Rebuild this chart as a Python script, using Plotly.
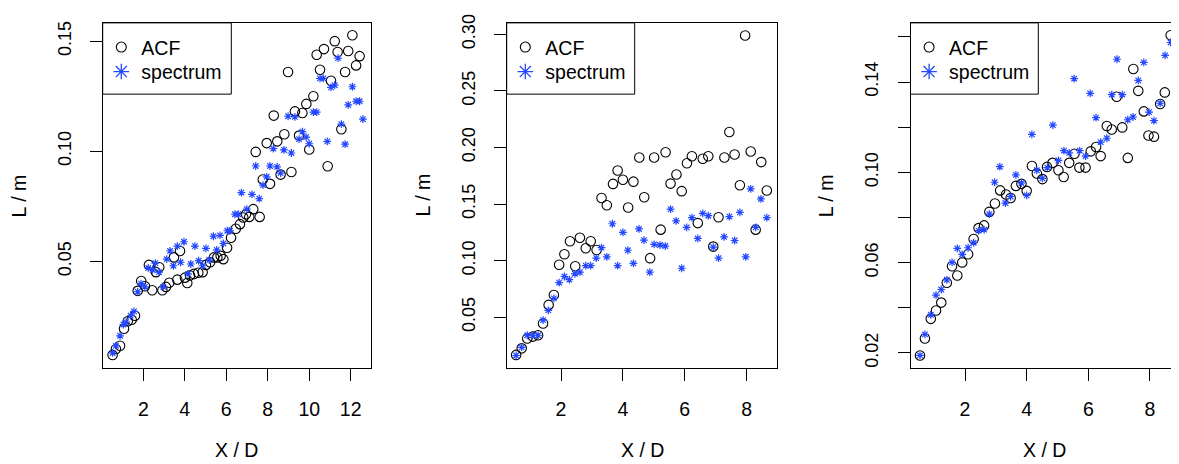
import plotly.graph_objects as go

# ---------------- data ----------------
p1_acf_x = [12.08, 11.23, 10.71, 10.36, 11.37, 11.88, 12.43, 12.26, 11.73, 10.52, 11.05, 8.98, 10.20, 9.86,
            9.67, 9.31, 8.29, 8.80, 8.46, 7.95, 9.51, 10.00, 11.55, 7.42, 10.89, 9.14, 8.62, 7.76, 8.11, 7.30,
            6.95, 6.82, 7.11, 7.61, 6.66, 6.46, 6.23, 6.04, 5.86, 5.73, 5.57, 5.41, 5.22, 5.02, 4.86, 4.65,
            4.44, 4.25, 4.12, 4.01, 3.64, 3.25, 3.09, 2.92, 3.77, 3.48, 2.77, 2.61, 2.27, 2.43, 1.90, 2.08,
            1.73, 1.60, 1.44, 1.25, 1.07, 0.88, 0.68, 0.52]
p1_acf_y = [0.1527, 0.1500, 0.1464, 0.1438, 0.1451, 0.1455, 0.1432, 0.1390, 0.1360, 0.1370, 0.1320, 0.1360,
            0.1250, 0.1215, 0.1174, 0.1181, 0.1162, 0.1077, 0.1045, 0.1037, 0.1071, 0.1008, 0.1100, 0.0997,
            0.0932, 0.0906, 0.0894, 0.0872, 0.0852, 0.0737, 0.0714, 0.0699, 0.0702, 0.0702, 0.0669, 0.0648,
            0.0607, 0.0562, 0.0510, 0.0525, 0.0518, 0.0518, 0.0496, 0.0484, 0.0451, 0.0448, 0.0443, 0.0436,
            0.0402, 0.0426, 0.0417, 0.0403, 0.0384, 0.0369, 0.0547, 0.0518, 0.0473, 0.0451, 0.0484, 0.0369,
            0.0411, 0.0387, 0.0366, 0.0253, 0.0235, 0.0228, 0.0194, 0.0117, 0.0102, 0.0075]
p1_spec_x = [11.39, 10.52, 10.68, 11.05, 11.23, 12.08, 11.88, 12.26, 12.43, 12.59, 11.55, 11.73, 10.87, 10.20,
             10.36, 8.98, 9.31, 9.67, 9.51, 9.85, 10.00, 8.27, 8.78, 9.14, 7.42, 8.11, 8.45, 8.62, 7.95, 7.77,
             6.73, 7.24, 7.59, 6.99, 6.42, 6.58, 6.05, 6.18, 5.38, 5.70, 5.86, 5.54, 5.02, 4.49, 3.96, 3.64,
             3.29, 3.13, 3.80, 3.45, 4.29, 4.67, 4.86, 5.18, 4.16, 2.96, 2.58, 2.45, 2.24, 2.76, 1.89, 2.07,
             1.73, 1.55, 1.39, 1.17, 1.04, 0.88, 0.68, 0.52]
p1_spec_y = [0.1423, 0.1331, 0.1331, 0.1290, 0.1300, 0.1293, 0.1211, 0.1227, 0.1227, 0.1146, 0.1123, 0.1032,
             0.1045, 0.1178, 0.1178, 0.1159, 0.1156, 0.1089, 0.1055, 0.1064, 0.1034, 0.1012, 0.1006, 0.0992,
             0.0933, 0.0933, 0.0929, 0.0901, 0.0884, 0.0846, 0.0812, 0.0804, 0.0785, 0.0737, 0.0714, 0.0714,
             0.0639, 0.0639, 0.0614, 0.0618, 0.0581, 0.0552, 0.0559, 0.0569, 0.0589, 0.0569, 0.0547, 0.0510,
             0.0496, 0.0480, 0.0488, 0.0503, 0.0480, 0.0506, 0.0443, 0.0384, 0.0492, 0.0461, 0.0470, 0.0451,
             0.0399, 0.0384, 0.0362, 0.0273, 0.0253, 0.0224, 0.0213, 0.0162, 0.0117, 0.0084]

p2_acf_x = [7.95, 7.44, 4.53, 5.01, 5.38, 6.23, 6.58, 6.76, 6.07, 7.28, 7.61, 8.13, 8.47, 3.83, 3.68, 4.00,
            4.34, 5.73, 5.54, 5.90, 7.78, 8.65, 3.31, 3.48, 4.69, 4.17, 5.22, 6.42, 7.09, 8.29, 6.92, 4.88,
            2.61, 2.29, 2.96, 2.80, 3.15, 2.11, 1.94, 2.46, 1.77, 1.60, 1.42, 1.26, 1.09, 0.91, 0.73, 0.55]
p2_acf_y = [0.2990, 0.2137, 0.1912, 0.1912, 0.1958, 0.1923, 0.1900, 0.1923, 0.1860, 0.1912, 0.1938, 0.1964,
            0.1871, 0.1796, 0.1678, 0.1715, 0.1698, 0.1761, 0.1681, 0.1614, 0.1666, 0.1620, 0.1553, 0.1490,
            0.1560, 0.1470, 0.1274, 0.1332, 0.1384, 0.1274, 0.1124, 0.1022, 0.1202, 0.1172, 0.1172, 0.1109,
            0.1094, 0.1057, 0.0964, 0.0950, 0.0696, 0.0609, 0.0445, 0.0341, 0.0329, 0.0312, 0.0225, 0.0167]
p2_spec_x = [8.13, 8.46, 5.54, 8.65, 6.58, 6.76, 6.23, 7.78, 7.44, 5.72, 6.06, 8.29, 3.66, 4.52, 4.00, 6.42,
             7.27, 7.61, 4.68, 5.01, 5.20, 5.37, 3.31, 4.16, 6.92, 3.48, 3.14, 7.09, 7.97, 4.34, 3.83, 2.80,
             2.96, 5.90, 4.87, 2.61, 2.45, 2.27, 2.11, 1.94, 1.77, 1.59, 1.42, 1.26, 1.09, 0.91, 0.73, 0.55]
p2_spec_y = [0.1635, 0.1545, 0.1455, 0.1380, 0.1418, 0.1397, 0.1380, 0.1427, 0.1389, 0.1352, 0.1294, 0.1294,
             0.1326, 0.1280, 0.1250, 0.1196, 0.1210, 0.1178, 0.1181, 0.1144, 0.1138, 0.1129, 0.1115, 0.1092,
             0.1120, 0.1034, 0.1022, 0.1022, 0.1034, 0.0976, 0.0956, 0.0956, 0.0956, 0.0933, 0.0898, 0.0898,
             0.0884, 0.0832, 0.0860, 0.0806, 0.0667, 0.0561, 0.0474, 0.0341, 0.0341, 0.0341, 0.0234, 0.0162]

p3_acf_x = [8.67, 7.46, 7.62, 8.48, 6.92, 8.33, 7.80, 6.60, 6.76, 7.10, 7.95, 8.13, 7.28, 6.25, 6.08, 6.40,
            5.55, 5.38, 5.71, 5.91, 5.03, 5.20, 4.84, 4.66, 4.17, 4.33, 4.51, 3.83, 3.65, 4.00, 3.14, 3.33,
            3.48, 2.97, 2.79, 2.62, 2.44, 2.28, 2.10, 1.91, 1.75, 1.58, 1.41, 1.23, 1.06, 0.89, 0.70, 0.54]
p3_acf_y = [0.1607, 0.1458, 0.1361, 0.1354, 0.1335, 0.1303, 0.1270, 0.1205, 0.1190, 0.1199, 0.1163, 0.1158,
            0.1064, 0.1112, 0.1093, 0.1072, 0.1082, 0.1042, 0.1021, 0.1021, 0.1009, 0.0979, 0.1042, 0.1024,
            0.1028, 0.0995, 0.0970, 0.0949, 0.0940, 0.0918, 0.0920, 0.0902, 0.0886, 0.0862, 0.0825, 0.0765,
            0.0753, 0.0705, 0.0637, 0.0601, 0.0543, 0.0584, 0.0511, 0.0423, 0.0388, 0.0351, 0.0264, 0.0189]
p3_spec_x = [8.67, 8.49, 7.80, 6.93, 7.62, 5.54, 6.06, 6.76, 7.10, 8.33, 7.97, 8.13, 7.28, 7.45, 6.25, 4.85,
             4.17, 6.60, 6.40, 5.21, 5.38, 5.72, 5.91, 5.03, 4.67, 4.33, 4.51, 3.13, 3.65, 3.83, 2.96, 4.00,
             3.48, 3.31, 2.79, 2.62, 2.44, 2.28, 2.10, 1.91, 1.75, 1.58, 1.41, 1.23, 1.06, 0.89, 0.70, 0.54]
p3_spec_y = [0.1575, 0.1518, 0.1487, 0.1501, 0.1407, 0.1415, 0.1350, 0.1344, 0.1344, 0.1306, 0.1267, 0.1229,
             0.1233, 0.1245, 0.1242, 0.1209, 0.1168, 0.1151, 0.1134, 0.1096, 0.1086, 0.1096, 0.1072, 0.1053,
             0.1021, 0.1009, 0.0973, 0.1025, 0.0989, 0.0953, 0.0956, 0.0898, 0.0893, 0.0864, 0.0815, 0.0746,
             0.0742, 0.0688, 0.0666, 0.0637, 0.0663, 0.0601, 0.0524, 0.0481, 0.0456, 0.0369, 0.0282, 0.0189]

x_ticks_1 = [2, 4, 6, 8, 10, 12]
x_ticks_23 = [2, 4, 6, 8]
y_ticks_1 = [0.05, 0.10, 0.15]
y_labels_1 = ["0.05", "0.10", "0.15"]
y_ticks_2 = [0.05, 0.10, 0.15, 0.20, 0.25, 0.30]
y_labels_2 = ["0.05", "0.10", "0.15", "0.20", "0.25", "0.30"]
y_ticks_3 = [0.02, 0.04, 0.06, 0.08, 0.10, 0.12, 0.14, 0.16]
y_labels_3 = ["0.02", "", "0.06", "", "0.10", "", "0.14", ""]

series_names = ["ACF", "spectrum"]
x_title = "X / D"
y_title = "L / m"

# ---------------- layout geometry (page pixels; page body has an 8px margin) ----------------
OFF = 8
W, H = 1179 - OFF, 464 - OFF
FONT = "Liberation Sans, Arial, Helvetica, sans-serif"
BLUE = "#2448ff"
TOP, BOT = 14.0, 366.0


def fx(p):  # page x pixel -> paper fraction
    return (p - OFF) / W


def fy(p):  # page y pixel -> paper fraction
    return 1 - (p - OFF) / H


panels = [
    dict(px=(102.7, 370.7), xr=(0.0424, 12.964), yr=(0.0016, 0.1583),
         xt=x_ticks_1, yt=y_ticks_1, yl=y_labels_1,
         acf=(p1_acf_x, p1_acf_y), spec=(p1_spec_x, p1_spec_y), box_r=231.3, right=True),
    dict(px=(506.7, 777.3), xr=(0.2456, 8.989), yr=(0.0052, 0.3101),
         xt=x_ticks_23, yt=y_ticks_2, yl=y_labels_2,
         acf=(p2_acf_x, p2_acf_y), spec=(p2_spec_x, p2_spec_y), box_r=634.7, right=True),
    dict(px=(910.5, 1179.0), xr=(0.232, 8.941), yr=(0.01336, 0.1662),
         xt=x_ticks_23, yt=y_ticks_3, yl=y_labels_3,
         acf=(p3_acf_x, p3_acf_y), spec=(p3_spec_x, p3_spec_y), box_r=1038.3, right=False),
]

fig = go.Figure()
layout = dict(width=W, height=H, margin=dict(l=0, r=0, t=0, b=0),
              paper_bgcolor="white", plot_bgcolor="white", showlegend=True,
              font=dict(family=FONT, color="black"))
shapes, annotations = [], []
ydom = [fy(BOT), fy(TOP)]
LEG_TOP = [19.1, 44.1]      # page y of each legend entry's top edge

leg_idx = 0
for i, p in enumerate(panels):
    k = "" if i == 0 else str(i + 1)
    xa, ya = "x" + k, "y" + k
    xdom = [fx(p["px"][0]), min(1.0, fx(p["px"][1]))]
    layout["xaxis" + k] = dict(
        domain=xdom, range=list(p["xr"]), anchor=ya, showgrid=False, zeroline=False,
        showline=True, linecolor="black", linewidth=1, mirror=True,
        ticks="outside", ticklen=12, tickwidth=1, tickcolor="black",
        tickvals=p["xt"], ticktext=[str(v) for v in p["xt"]],
        tickfont=dict(size=19.5, family=FONT, color="black"), ticklabelstandoff=12,
        ticklabeloverflow="allow")
    layout["yaxis" + k] = dict(
        domain=ydom, range=list(p["yr"]), anchor=xa, showgrid=False, zeroline=False,
        showline=True, linecolor="black", linewidth=1, mirror=p["right"],
        ticks="outside", ticklen=12, tickwidth=1, tickcolor="black",
        tickvals=p["yt"], ticktext=p["yl"], tickangle=-90,
        tickfont=dict(size=18, family=FONT, color="black"), ticklabelstandoff=12,
        ticklabeloverflow="allow")

    fig.add_trace(go.Scatter(x=p["acf"][0], y=p["acf"][1], mode="markers", xaxis=xa, yaxis=ya,
                             marker=dict(symbol="circle-open", size=9.5, color="black",
                                         line=dict(width=1.1, color="black")),
                             showlegend=False, hoverinfo="x+y"))
    fig.add_trace(go.Scatter(x=p["spec"][0], y=p["spec"][1], mode="markers", xaxis=xa, yaxis=ya,
                             marker=dict(symbol="asterisk-open", size=6.5, color=BLUE,
                                         line=dict(width=1.2, color=BLUE)),
                             showlegend=False, hoverinfo="x+y"))

    # legend entries (one plotly legend per entry so spacing matches the reference)
    styles = [dict(symbol="circle-open", size=10, color="black", line=dict(width=1.1, color="black")),
              dict(symbol="asterisk-open", size=13, color=BLUE, line=dict(width=1.3, color=BLUE))]
    for j in range(2):
        leg_idx += 1
        lname = "legend" if leg_idx == 1 else "legend%d" % leg_idx
        fig.add_trace(go.Scatter(x=[None], y=[None], mode="markers", xaxis=xa, yaxis=ya,
                                 name=series_names[j], legend=lname, marker=styles[j]))
        layout[lname] = dict(x=fx(p["px"][0] - 1.4), y=fy(LEG_TOP[j]),
                             xanchor="left", yanchor="top",
                             bgcolor="rgba(0,0,0,0)", borderwidth=0,
                             font=dict(size=19.5, family=FONT, color="black"),
                             itemclick=False, itemdoubleclick=False)

    shapes.append(dict(type="rect", xref="paper", yref="paper",
                       x0=fx(p["px"][0]), x1=fx(p["box_r"]), y0=fy(86.7), y1=fy(TOP),
                       line=dict(color="black", width=1), fillcolor="rgba(0,0,0,0)"))
    annotations.append(dict(text=x_title, xref=xa + " domain", yref="paper",
                            x=(((p["px"][0] + p["px"][1]) / 2 - OFF) / W - xdom[0]) / (xdom[1] - xdom[0]),
                            y=fy(450), xanchor="center", yanchor="middle", showarrow=False,
                            font=dict(size=19.5, family=FONT, color="black")))
    annotations.append(dict(text=y_title, xref="paper", yref=ya + " domain",
                            x=fx(p["px"][0] - 83.7), y=0.5, textangle=-90,
                            xanchor="center", yanchor="middle", showarrow=False,
                            font=dict(size=19.5, family=FONT, color="black")))

layout["shapes"] = shapes
layout["annotations"] = annotations
fig.update_layout(**layout)
fig.write_html("out.html")
